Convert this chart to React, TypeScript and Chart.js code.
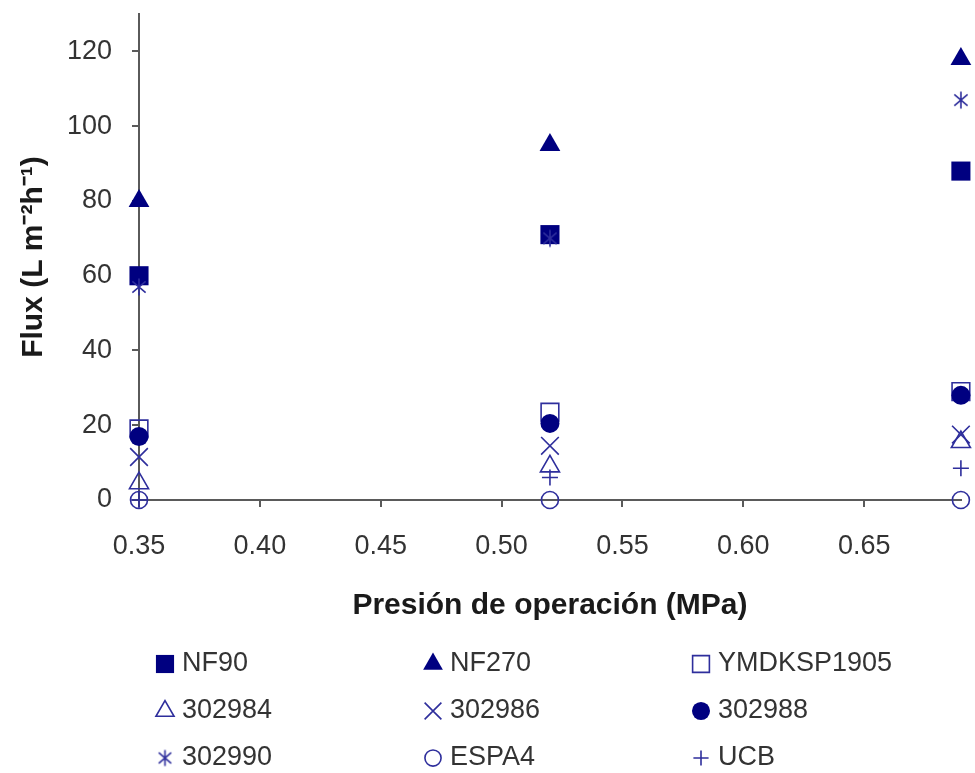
import React, { useEffect, useRef } from 'react';
import { Chart, registerables } from 'chart.js';
import { drawPoint } from 'chart.js/helpers';

Chart.register(...registerables);

// ---- data ----
const PRESSURE = [0.35, 0.52, 0.69];
const NF90 = [60, 71, 88];
const NF270 = [80, 95, 118];
const YMDKSP1905 = [19, 23.5, 29];
const S302984 = [4.5, 9, 15.5];
const S302986 = [11.5, 14.5, 17.5];
const S302988 = [17, 20.5, 28];
const S302990 = [57, 70, 107];
const ESPA4 = [0, 0, 0];
const UCB = [0, 6, 8.5];

const SERIES_LABELS = ['NF90', 'NF270', 'YMDKSP1905', '302984', '302986', '302988', '302990', 'ESPA4', 'UCB'];
const SERIES_VALUES = [NF90, NF270, YMDKSP1905, S302984, S302986, S302988, S302990, ESPA4, UCB];

const X_TICKS = [0.35, 0.4, 0.45, 0.5, 0.55, 0.6, 0.65];
const Y_TICKS = [0, 20, 40, 60, 80, 100, 120];
const X_TITLE = 'Presión de operación (MPa)';
const Y_TITLE = 'Flux (L m⁻²h⁻¹)';

// ---- styles ----
const NAVY = '#000080';
const LINE = '#2e2e9c';
const FONT = "'Liberation Sans', Arial, Helvetica, sans-serif";
const AXIS = '#5a5a5a';

function makeAsterisk(size: number, color: string): HTMLCanvasElement {
  const c = document.createElement('canvas');
  c.width = size;
  c.height = size;
  const g = c.getContext('2d')!;
  g.strokeStyle = color;
  g.lineWidth = 1.6;
  const m = size / 2;
  const r = size / 2 - 1.5;
  g.beginPath();
  g.moveTo(m, m - r);
  g.lineTo(m, m + r);
  const d = r * 0.78;
  g.moveTo(m - d, m - d * 0.85);
  g.lineTo(m + d, m + d * 0.85);
  g.moveTo(m - d, m + d * 0.85);
  g.lineTo(m + d, m - d * 0.85);
  g.stroke();
  return c;
}

type Sty = { pointStyle: any; radius: number; bg: string; border: string; bw: number };

function seriesStyles(star: HTMLCanvasElement, starSmall: HTMLCanvasElement): { plot: Sty[]; legend: Sty[] } {
  const plot: Sty[] = [
    { pointStyle: 'rect', radius: 13.5, bg: NAVY, border: NAVY, bw: 0 },
    { pointStyle: 'triangle', radius: 12, bg: NAVY, border: NAVY, bw: 0 },
    { pointStyle: 'rect', radius: 12.5, bg: 'rgba(0,0,0,0)', border: LINE, bw: 1.6 },
    { pointStyle: 'triangle', radius: 11, bg: 'rgba(0,0,0,0)', border: LINE, bw: 1.6 },
    { pointStyle: 'crossRot', radius: 12.5, bg: 'rgba(0,0,0,0)', border: LINE, bw: 1.6 },
    { pointStyle: 'circle', radius: 9.5, bg: NAVY, border: NAVY, bw: 0 },
    { pointStyle: star, radius: 10, bg: 'rgba(0,0,0,0)', border: LINE, bw: 1.6 },
    { pointStyle: 'circle', radius: 8.5, bg: 'rgba(0,0,0,0)', border: LINE, bw: 1.6 },
    { pointStyle: 'cross', radius: 8, bg: 'rgba(0,0,0,0)', border: LINE, bw: 1.6 },
  ];
  const legend = plot.map((s, i) => ({
    ...s,
    pointStyle: i === 6 ? starSmall : s.pointStyle,
    radius: s.radius * 0.95,
  }));
  return { plot, legend };
}

const LEG_COL_X = [165, 433, 701];
const LEG_ROW_Y = [664, 711, 758];

export default function App() {
  const ref = useRef<HTMLCanvasElement>(null);

  useEffect(() => {
    const star = makeAsterisk(20, LINE);
    const starSmall = makeAsterisk(19, LINE);
    const { plot, legend } = seriesStyles(star, starSmall);

    const datasets = SERIES_LABELS.map((label, i) => ({
      label,
      data: PRESSURE.map((x, k) => ({ x, y: SERIES_VALUES[i][k] })),
      showLine: false,
      clip: false as any,
      order: SERIES_LABELS.length - i,
      pointStyle: plot[i].pointStyle,
      pointRadius: plot[i].radius,
      pointHoverRadius: plot[i].radius,
      pointBackgroundColor: plot[i].bg,
      pointBorderColor: plot[i].border,
      pointBorderWidth: plot[i].bw,
      backgroundColor: plot[i].bg,
      borderColor: plot[i].border,
    }));

    const gridLegend = {
      id: 'gridLegend',
      afterDraw(chart: any) {
        const ctx = chart.ctx as CanvasRenderingContext2D;
        ctx.save();
        SERIES_LABELS.forEach((label, i) => {
          const col = i % 3;
          const row = Math.floor(i / 3);
          const mx = LEG_COL_X[col];
          const my = LEG_ROW_Y[row];
          const s = legend[i];
          ctx.fillStyle = s.bg;
          ctx.strokeStyle = s.border;
          ctx.lineWidth = s.bw;
          drawPoint(ctx, { pointStyle: s.pointStyle, radius: s.radius, borderWidth: s.bw, rotation: 0 } as any, mx, my);
          ctx.fillStyle = '#333333';
          ctx.font = `27px ${FONT}`;
          ctx.textAlign = 'left';
          ctx.textBaseline = 'middle';
          ctx.fillText(label, mx + 17, my);
        });
        ctx.restore();
      },
    };

    const tickFont = { family: FONT, size: 27 };
    const titleFont = { family: FONT, size: 30, weight: 'bold' as const };

    const chart = new Chart(ref.current!, {
      type: 'scatter',
      data: { datasets },
      options: {
        animation: false,
        responsive: true,
        maintainAspectRatio: false,
        layout: { padding: { left: 0, top: 10, right: 13, bottom: 143 } },
        plugins: { legend: { display: false }, tooltip: { enabled: false } },
        scales: {
          x: {
            type: 'linear',
            position: 'bottom',
            min: 0.35,
            max: 0.69,
            afterBuildTicks: (s: any) => {
              s.ticks = X_TICKS.map((v) => ({ value: v }));
            },
            afterFit: (s: any) => {
              s.height = 130;
              s.paddingLeft = 0;
              s.paddingRight = 0;
            },
            ticks: {
              callback: (v: any) => Number(v).toFixed(2),
              padding: 23,
              color: '#333333',
              font: tickFont,
              maxRotation: 0,
              autoSkip: false,
            },
            grid: { display: true, drawOnChartArea: false, drawTicks: true, tickLength: 7, color: AXIS, lineWidth: 2 },
            border: { display: true, color: AXIS, width: 2 },
            title: { display: true, text: X_TITLE, color: '#1a1a1a', font: titleFont, padding: { top: 0, bottom: 6 } },
          },
          y: {
            type: 'linear',
            min: 0,
            max: 130,
            afterBuildTicks: (s: any) => {
              s.ticks = Y_TICKS.map((v) => ({ value: v }));
            },
            afterFit: (s: any) => {
              s.width = 139;
              s.paddingTop = 0;
              s.paddingBottom = 0;
            },
            ticks: { padding: 20, color: '#333333', font: tickFont },
            grid: { display: true, drawOnChartArea: false, drawTicks: true, tickLength: 7, color: AXIS, lineWidth: 2 },
            border: { display: true, color: AXIS, width: 2 },
            title: { display: true, text: Y_TITLE, color: '#1a1a1a', font: titleFont, padding: { top: 16, bottom: 0 } },
          },
        },
      },
      plugins: [gridLegend],
    });
    return () => chart.destroy();
  }, []);

  return (
    <div style={{ position: 'fixed', left: 0, top: 0, width: 975, height: 773, background: '#ffffff' }}>
      <canvas ref={ref} />
    </div>
  );
}
